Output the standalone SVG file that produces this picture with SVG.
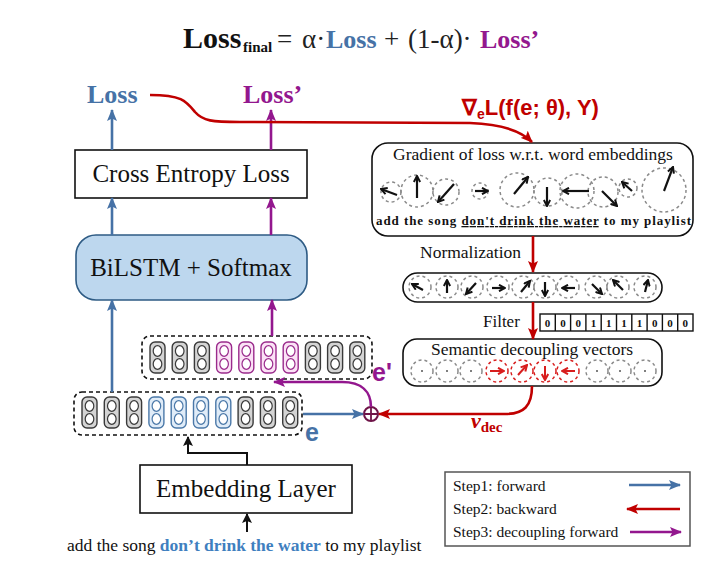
<svg xmlns="http://www.w3.org/2000/svg" xmlns:xlink="http://www.w3.org/1999/xlink" width="720" height="569" viewBox="0 0 720 569">
<style>
.serif{font-family:"Liberation Serif","Times New Roman",serif;}
.sans{font-family:"Liberation Sans",Arial,sans-serif;}
.box{fill:#fff;stroke:#111;stroke-width:1.6;}
.dash{fill:#fff;stroke:#111;stroke-width:1.6;stroke-dasharray:4 3;}
.cg{fill:#d4d4d4;stroke:#3a3a3a;stroke-width:1.4;}
.cp{fill:#fbe2f6;stroke:#9a2b8c;stroke-width:1.4;}
.cb{fill:#e0ecf8;stroke:#4a78a8;stroke-width:1.4;}
.dg{fill:#fff;stroke:#3a3a3a;stroke-width:1.2;}
.dp{fill:#fff;stroke:#9a2b8c;stroke-width:1.2;}
.db{fill:#fff;stroke:#4a78a8;stroke-width:1.2;}
.gc{fill:none;stroke:#8a8a8a;stroke-width:1.5;stroke-dasharray:3 3;}
.rc{fill:none;stroke:#d81e1e;stroke-width:1.5;stroke-dasharray:3 3;}
.ka{stroke:#111;stroke-width:2.2;fill:none;marker-end:url(#hk);}
.ra{stroke:#d81e1e;stroke-width:2;fill:none;marker-end:url(#hr);}
.blue{stroke:#4672a6;stroke-width:2.6;fill:none;marker-end:url(#mb);}
.purp{stroke:#93178e;stroke-width:2.6;fill:none;marker-end:url(#mp);}
.red{stroke:#c00000;stroke-width:2.6;fill:none;marker-end:url(#mr);}
.blk{stroke:#111;stroke-width:2;fill:none;}
</style>
<defs>
<marker id="mb" viewBox="0 0 12 10" refX="11" refY="5" markerWidth="12" markerHeight="10" markerUnits="userSpaceOnUse" orient="auto"><path d="M0,0 L12,5 L0,10 L2.5,5 z" fill="#4672a6"/></marker>
<marker id="mp" viewBox="0 0 12 10" refX="11" refY="5" markerWidth="12" markerHeight="10" markerUnits="userSpaceOnUse" orient="auto"><path d="M0,0 L12,5 L0,10 L2.5,5 z" fill="#93178e"/></marker>
<marker id="mr" viewBox="0 0 12 10" refX="11" refY="5" markerWidth="12" markerHeight="10" markerUnits="userSpaceOnUse" orient="auto"><path d="M0,0 L12,5 L0,10 L2.5,5 z" fill="#c00000"/></marker>
<marker id="mk" viewBox="0 0 10 10" refX="9" refY="5" markerWidth="10" markerHeight="10" markerUnits="userSpaceOnUse" orient="auto"><path d="M0,0 L10,5 L0,10 L2,5 z" fill="#111"/></marker>
<marker id="hk" viewBox="0 0 8 8" refX="7" refY="4" markerWidth="8" markerHeight="8" markerUnits="userSpaceOnUse" orient="auto"><path d="M1,0.8 L7,4 L1,7.2" fill="none" stroke="#111" stroke-width="2"/></marker>
<marker id="hr" viewBox="0 0 8 8" refX="7" refY="4" markerWidth="8" markerHeight="8" markerUnits="userSpaceOnUse" orient="auto"><path d="M1,0.8 L7,4 L1,7.2" fill="none" stroke="#d81e1e" stroke-width="2"/></marker>
<g id="dots"><ellipse cx="7.5" cy="9" rx="4.3" ry="5.3"/><ellipse cx="7.5" cy="22" rx="4.3" ry="5.3"/></g>
</defs>
<rect width="720" height="569" fill="#fff"/>

<!-- Title -->
<g id="title" class="serif">
<text y="48" font-size="27"><tspan x="183" font-size="30" font-weight="bold" fill="#111">Loss</tspan><tspan x="243" dy="4" font-size="15" font-weight="bold" fill="#111">final</tspan><tspan x="277" dy="-4" fill="#222">=</tspan><tspan x="302" fill="#222">α·</tspan><tspan x="326" font-size="26" font-weight="bold" fill="#4672a6">Loss</tspan><tspan x="384" fill="#222">+</tspan><tspan x="408" fill="#222">(1-α)·</tspan><tspan x="480" font-size="26" font-weight="bold" fill="#93178e">Loss’</tspan></text>
</g>

<!-- Left column labels -->
<g id="loss"><text x="87" y="103" class="serif" font-size="26" font-weight="bold" fill="#4672a6">Loss</text></g>
<g id="lossp"><text x="243" y="103" class="serif" font-size="26" font-weight="bold" fill="#93178e">Loss’</text></g>

<g id="ce"><rect x="75" y="150" width="232" height="48" class="box"/><text x="191" y="182" class="serif" font-size="25" text-anchor="middle" fill="#111">Cross Entropy Loss</text></g>

<g id="bilstm"><rect x="76" y="235" width="231" height="65" rx="20" fill="#bdd7ee" stroke="#2e5b84" stroke-width="1.6"/><text x="191" y="276" class="serif" font-size="25" text-anchor="middle" fill="#111">BiLSTM + Softmax</text></g>

<!-- e' vector -->
<g id="eprime">
<rect x="142" y="336" width="230" height="43" rx="8" class="dash"/>
<g transform="translate(150,342)"><rect width="15" height="31" rx="5" class="cg"/><use xlink:href="#dots" class="dg"/></g>
<g transform="translate(172.2,342)"><rect width="15" height="31" rx="5" class="cg"/><use xlink:href="#dots" class="dg"/></g>
<g transform="translate(194.4,342)"><rect width="15" height="31" rx="5" class="cg"/><use xlink:href="#dots" class="dg"/></g>
<g transform="translate(216.6,342)"><rect width="15" height="31" rx="5" class="cp"/><use xlink:href="#dots" class="dp"/></g>
<g transform="translate(238.8,342)"><rect width="15" height="31" rx="5" class="cp"/><use xlink:href="#dots" class="dp"/></g>
<g transform="translate(261,342)"><rect width="15" height="31" rx="5" class="cp"/><use xlink:href="#dots" class="dp"/></g>
<g transform="translate(283.2,342)"><rect width="15" height="31" rx="5" class="cp"/><use xlink:href="#dots" class="dp"/></g>
<g transform="translate(305.4,342)"><rect width="15" height="31" rx="5" class="cg"/><use xlink:href="#dots" class="dg"/></g>
<g transform="translate(327.6,342)"><rect width="15" height="31" rx="5" class="cg"/><use xlink:href="#dots" class="dg"/></g>
<g transform="translate(349.8,342)"><rect width="15" height="31" rx="5" class="cg"/><use xlink:href="#dots" class="dg"/></g>
<text x="372" y="381" class="sans" font-size="25" font-weight="bold" fill="#93178e">e'</text>
</g>

<!-- e vector -->
<g id="evec">
<rect x="74" y="392" width="228" height="43" rx="8" class="dash"/>
<g transform="translate(82,397)"><rect width="15" height="31" rx="5" class="cg"/><use xlink:href="#dots" class="dg"/></g>
<g transform="translate(104.3,397)"><rect width="15" height="31" rx="5" class="cg"/><use xlink:href="#dots" class="dg"/></g>
<g transform="translate(126.6,397)"><rect width="15" height="31" rx="5" class="cg"/><use xlink:href="#dots" class="dg"/></g>
<g transform="translate(148.9,397)"><rect width="15" height="31" rx="5" class="cb"/><use xlink:href="#dots" class="db"/></g>
<g transform="translate(171.2,397)"><rect width="15" height="31" rx="5" class="cb"/><use xlink:href="#dots" class="db"/></g>
<g transform="translate(193.5,397)"><rect width="15" height="31" rx="5" class="cb"/><use xlink:href="#dots" class="db"/></g>
<g transform="translate(215.8,397)"><rect width="15" height="31" rx="5" class="cb"/><use xlink:href="#dots" class="db"/></g>
<g transform="translate(238.1,397)"><rect width="15" height="31" rx="5" class="cg"/><use xlink:href="#dots" class="dg"/></g>
<g transform="translate(260.4,397)"><rect width="15" height="31" rx="5" class="cg"/><use xlink:href="#dots" class="dg"/></g>
<g transform="translate(282.7,397)"><rect width="15" height="31" rx="5" class="cg"/><use xlink:href="#dots" class="dg"/></g>
<text x="305" y="441" class="sans" font-size="25" font-weight="bold" fill="#4672a6">e</text>
</g>

<g id="plus"><circle cx="371" cy="414" r="7" fill="#fff" stroke="#6e1448" stroke-width="2"/><path d="M364,414 H378 M371,407 V421" stroke="#6e1448" stroke-width="1.8"/></g>

<g id="embed"><rect x="140" y="465" width="212" height="48" class="box"/><text x="246" y="497" class="serif" font-size="25" text-anchor="middle" fill="#111">Embedding Layer</text></g>

<g id="sentence"><text x="67" y="551" class="serif" font-size="17.5" fill="#111">add the song <tspan font-weight="bold" fill="#3f7fbf">don’t drink the water</tspan> to my playlist</text></g>

<!-- Gradient box -->
<g id="gradient">
<text x="462" y="115" class="sans" font-size="22" font-weight="bold" fill="#c00000">∇<tspan font-size="14" dy="4">e</tspan><tspan dy="-4">L(f(e; θ), Y)</tspan></text>
<rect x="372" y="143" width="321" height="93" rx="16" class="box"/>
<text x="533" y="160" class="serif" font-size="17.5" text-anchor="middle" fill="#111">Gradient of loss w.r.t. word embeddings</text>
<circle cx="391" cy="192" r="10" class="gc"/>
<circle cx="417" cy="191" r="16" class="gc"/>
<circle cx="446" cy="192" r="13" class="gc"/>
<circle cx="480" cy="191" r="8" class="gc"/>
<circle cx="517" cy="190" r="17" class="gc"/>
<circle cx="548" cy="192" r="14" class="gc"/>
<circle cx="577" cy="191" r="17" class="gc"/>
<circle cx="603" cy="192" r="15" class="gc"/>
<circle cx="628" cy="188" r="9" class="gc"/>
<circle cx="664" cy="190" r="22" class="gc"/>
<line x1="397" y1="195" x2="381" y2="189" class="ka"/>
<line x1="417" y1="198" x2="417" y2="176" class="ka"/>
<line x1="454" y1="184" x2="438" y2="202" class="ka"/>
<line x1="475" y1="191" x2="488" y2="191" class="ka"/>
<line x1="514" y1="194" x2="528" y2="177" class="ka"/>
<line x1="547" y1="187" x2="547" y2="206" class="ka"/>
<line x1="589" y1="191" x2="563" y2="191" class="ka"/>
<line x1="602" y1="191" x2="617" y2="206" class="ka"/>
<line x1="632" y1="191" x2="622" y2="182" class="ka"/>
<line x1="664" y1="191" x2="673" y2="167" class="ka"/>
<text x="376" y="225" class="serif" font-size="13" font-weight="bold" fill="#111" textLength="315" lengthAdjust="spacing">add the song <tspan text-decoration="underline">don't drink the water</tspan> to my playlist</text>
</g>

<!-- Normalization box -->
<g id="norm">
<text x="420" y="258" class="serif" font-size="17.5" fill="#111">Normalization</text>
<rect x="403" y="273" width="259" height="29" rx="14.5" class="box"/>
<circle cx="420" cy="287" r="11" class="gc"/>
<circle cx="447" cy="287" r="11" class="gc"/>
<circle cx="472" cy="287" r="11" class="gc"/>
<circle cx="498" cy="287" r="11" class="gc"/>
<circle cx="523" cy="287" r="11" class="gc"/>
<circle cx="545" cy="287" r="11" class="gc"/>
<circle cx="568" cy="287" r="11" class="gc"/>
<circle cx="596" cy="287" r="11" class="gc"/>
<circle cx="618" cy="287" r="11" class="gc"/>
<circle cx="645" cy="287" r="11" class="gc"/>
<line x1="423" y1="290" x2="412" y2="284" class="ka"/>
<line x1="447" y1="293" x2="447" y2="280" class="ka"/>
<line x1="476" y1="283" x2="466" y2="294" class="ka"/>
<line x1="492" y1="288" x2="505" y2="288" class="ka"/>
<line x1="521" y1="292" x2="530" y2="281" class="ka"/>
<line x1="545" y1="282" x2="545" y2="296" class="ka"/>
<line x1="575" y1="288" x2="562" y2="288" class="ka"/>
<line x1="592" y1="284" x2="602" y2="294" class="ka"/>
<line x1="623" y1="290" x2="613" y2="280" class="ka"/>
<line x1="645" y1="292" x2="648" y2="280" class="ka"/>
</g>

<!-- Filter -->
<g id="filter" class="serif" font-size="11" font-weight="bold" text-anchor="middle" fill="#111">
<text x="483" y="327" font-size="17" font-weight="normal" text-anchor="start">Filter</text>
<rect x="540" y="314" width="153" height="17" fill="#fff" stroke="#111" stroke-width="1.4"/>
<path d="M555.3,314 V331 M570.6,314 V331 M585.9,314 V331 M601.2,314 V331 M616.5,314 V331 M631.8,314 V331 M647.1,314 V331 M662.4,314 V331 M677.7,314 V331" stroke="#111" stroke-width="1.4"/>
<text x="547.6" y="327">0</text><text x="562.9" y="327">0</text><text x="578.2" y="327">0</text><text x="593.5" y="327">1</text><text x="608.8" y="327">1</text><text x="624.1" y="327">1</text><text x="639.4" y="327">1</text><text x="654.7" y="327">0</text><text x="670" y="327">0</text><text x="685.3" y="327">0</text>
</g>

<!-- Semantic decoupling vectors -->
<g id="semantic">
<rect x="403" y="339" width="259" height="47" rx="14" class="box"/>
<text x="532" y="355" class="serif" font-size="17.5" text-anchor="middle" fill="#111">Semantic decoupling vectors</text>
<circle cx="422" cy="371" r="11" class="gc"/><circle cx="422" cy="371" r="1" fill="#555"/>
<circle cx="447" cy="371" r="11" class="gc"/><circle cx="447" cy="371" r="1" fill="#555"/>
<circle cx="471" cy="371" r="11" class="gc"/><circle cx="471" cy="371" r="1" fill="#555"/>
<circle cx="497" cy="371" r="11" class="rc"/>
<circle cx="522" cy="371" r="11" class="rc"/>
<circle cx="545" cy="371" r="11" class="rc"/>
<circle cx="568" cy="371" r="11" class="rc"/>
<circle cx="597" cy="371" r="11" class="gc"/><circle cx="597" cy="371" r="1" fill="#555"/>
<circle cx="620" cy="371" r="11" class="gc"/><circle cx="620" cy="371" r="1" fill="#555"/>
<circle cx="645" cy="371" r="11" class="gc"/><circle cx="645" cy="371" r="1" fill="#555"/>
<line x1="490" y1="371" x2="504" y2="371" class="ra"/>
<line x1="518" y1="375" x2="527" y2="365" class="ra"/>
<line x1="545" y1="366" x2="545" y2="380" class="ra"/>
<line x1="575" y1="371" x2="562" y2="371" class="ra"/>
</g>

<g id="vdec"><text x="471" y="428" class="serif" font-size="22" font-weight="bold" font-style="italic" fill="#c00000">v<tspan font-size="15" font-style="normal" dy="4">dec</tspan></text></g>

<!-- Legend -->
<g id="legend">
<rect x="445" y="472" width="245" height="74" fill="#fff" stroke="#555" stroke-width="1.5"/>
<text x="453" y="491" class="serif" font-size="15.5" fill="#111">Step1: forward</text>
<text x="453" y="514" class="serif" font-size="15.5" fill="#111">Step2: backward</text>
<text x="453" y="537" class="serif" font-size="15.5" fill="#111">Step3: decoupling forward</text>
<line x1="629" y1="485" x2="680" y2="485" class="blue"/>
<line x1="680" y1="509" x2="627" y2="509" class="red"/>
<line x1="630" y1="532" x2="681" y2="532" class="purp"/>
</g>

<!-- Connectors -->
<g id="connectors">
<line x1="112" y1="150" x2="112" y2="110" class="blue"/>
<line x1="271" y1="150" x2="271" y2="110" class="purp"/>
<line x1="112" y1="235" x2="112" y2="198" class="blue"/>
<line x1="271" y1="235" x2="271" y2="198" class="purp"/>
<line x1="112" y1="392" x2="112" y2="300" class="blue"/>
<line x1="272" y1="336" x2="272" y2="300" class="purp"/>
<line x1="303" y1="414" x2="363" y2="414" class="blue"/>
<path d="M371,407 C371,392 362,382 342,382 L274,382" class="purp"/>
<path d="M532,386 C532,406 524,414 505,414 L379,414" class="red"/>
<path d="M150,95 C182,95 186,101 195,112 C203,121 212,122 240,122 L470,123 C500,124 520,130 532,142" class="red"/>
<line x1="533" y1="236" x2="533" y2="272" class="red"/>
<line x1="533" y1="302" x2="533" y2="339" class="red"/>
<path d="M247,465 V453 H188 V437" class="blk" marker-end="url(#mk)"/>
<line x1="247" y1="532" x2="247" y2="514" class="blk" marker-end="url(#mk)"/>
</g>
</svg>
